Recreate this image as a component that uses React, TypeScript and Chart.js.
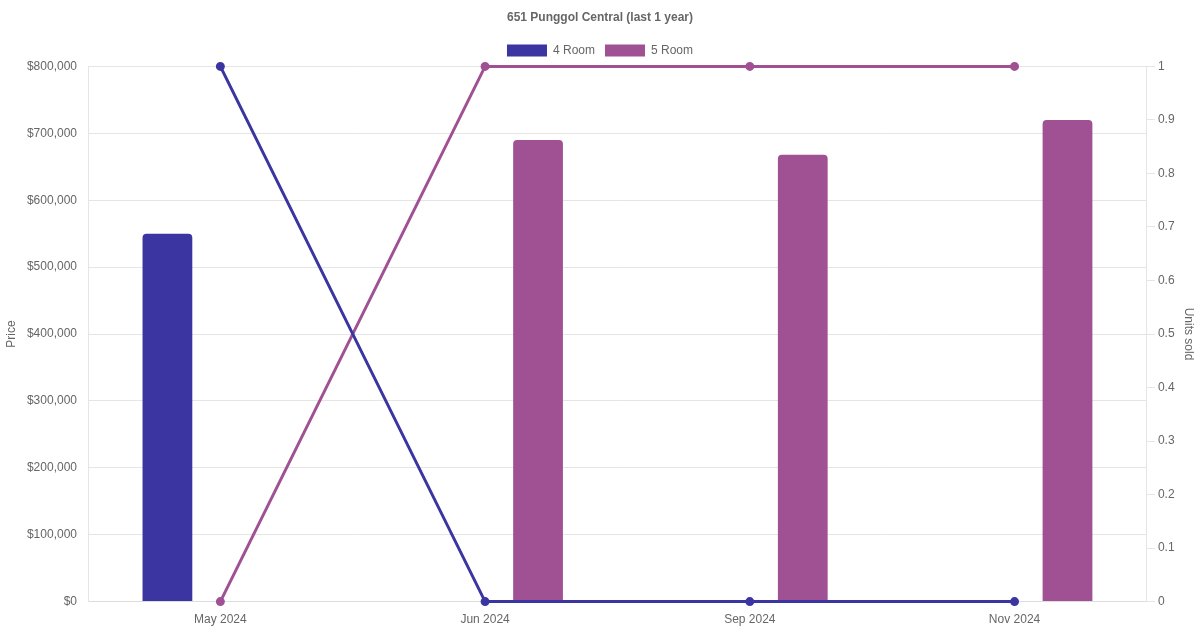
import React, { useEffect, useRef } from "react";
import Chart from "chart.js/auto";

const months = ["May 2024", "Jun 2024", "Sep 2024", "Nov 2024"];
const price4Room = [550000, null, null, null];
const price5Room = [null, 690000, 668000, 720000];
const units4Room = [1, 0, 0, 0];
const units5Room = [0, 1, 1, 1];

const BLUE = "rgb(58, 53, 160)";
const PURPLE = "rgb(160, 81, 147)";

const App: React.FC = () => {
  const chartRef = useRef<HTMLCanvasElement | null>(null);
  const chartInstance = useRef<Chart | null>(null);

  useEffect(() => {
    document.body.style.margin = "0";
    if (!chartRef.current) return;
    if (chartInstance.current) chartInstance.current.destroy();

    chartInstance.current = new Chart(chartRef.current, {
      type: "bar",
      data: {
        labels: months,
        datasets: [
          {
            type: "line",
            label: "4 Room units",
            data: units4Room,
            yAxisID: "y1",
            borderColor: BLUE,
            backgroundColor: BLUE,
            borderWidth: 3,
            pointRadius: 3,
            clip: false,
            order: 0,
          },
          {
            type: "line",
            label: "5 Room units",
            data: units5Room,
            yAxisID: "y1",
            borderColor: PURPLE,
            backgroundColor: PURPLE,
            borderWidth: 3,
            pointRadius: 3,
            clip: false,
            order: 0,
          },
          {
            label: "4 Room",
            data: price4Room,
            yAxisID: "y",
            backgroundColor: BLUE,
            borderRadius: 4,
            barPercentage: 0.47,
            categoryPercentage: 0.8,
            order: 1,
          },
          {
            label: "5 Room",
            data: price5Room,
            yAxisID: "y",
            backgroundColor: PURPLE,
            borderRadius: 4,
            barPercentage: 0.47,
            categoryPercentage: 0.8,
            order: 1,
          },
        ] as any,
      },
      options: {
        animation: false,
        responsive: true,
        maintainAspectRatio: false,
        plugins: {
          title: {
            display: true,
            text: "651 Punggol Central (last 1 year)",
            color: "#666",
            font: { size: 12, weight: "bold" },
            padding: { top: 10, bottom: 10 },
          },
          legend: {
            position: "top",
            labels: {
              color: "#666",
              boxWidth: 40,
              boxHeight: 12,
              filter: (item) => item.text === "4 Room" || item.text === "5 Room",
            },
          },
          tooltip: { enabled: false },
        },
        scales: {
          x: {
            grid: { display: false },
            border: { color: "#ddd" },
            ticks: { color: "#666" },
          },
          y: {
            position: "left",
            min: 0,
            max: 800000,
            afterFit: (scale) => {
              scale.width = 88;
            },
            ticks: {
              stepSize: 100000,
              color: "#666",
              padding: 11,
              callback: (v) => "$" + Number(v).toLocaleString("en-US"),
            },
            grid: { color: "#e5e5e5", drawTicks: false },
            border: { color: "#e5e5e5" },
            title: { display: true, text: "Price", color: "#666" },
          },
          y1: {
            position: "right",
            min: 0,
            max: 1,
            ticks: {
              stepSize: 0.1,
              color: "#666",
              callback: (v) => String(Math.round(Number(v) * 10) / 10),
            },
            grid: { drawOnChartArea: false, color: "#e5e5e5" },
            border: { color: "#e5e5e5" },
            title: { display: true, text: "Units sold", color: "#666" },
          },
        },
      },
    });

    return () => {
      if (chartInstance.current) {
        chartInstance.current.destroy();
        chartInstance.current = null;
      }
    };
  }, []);

  return (
    <div style={{ position: "relative", width: "1200px", height: "630px" }}>
      <canvas ref={chartRef} />
    </div>
  );
};

export default App;
